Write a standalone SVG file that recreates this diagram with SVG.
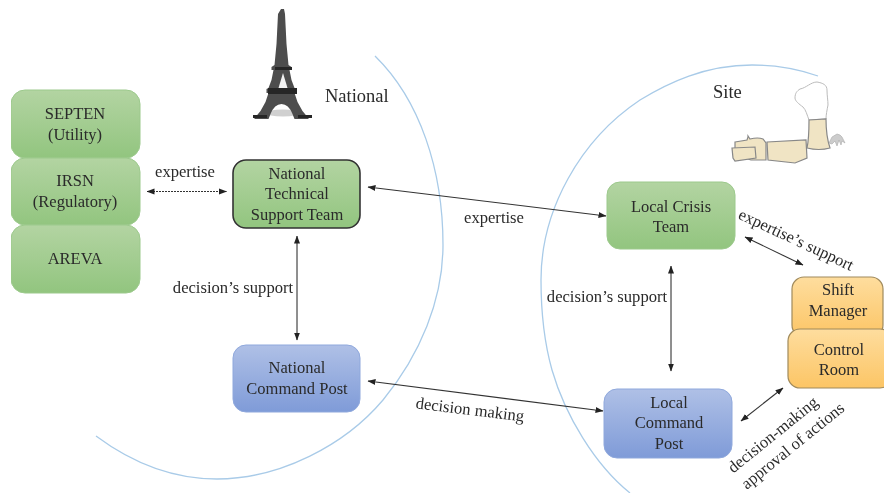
<svg xmlns="http://www.w3.org/2000/svg" width="884" height="493" viewBox="0 0 884 493">
<style>
text{font-family:"Liberation Serif","Times New Roman",serif;font-size:16.500px;fill:#2a2a2a;text-anchor:middle}
.l{font-size:16.600px}
.h{font-size:18.500px;text-anchor:start}
.c{fill:none;stroke:#333;stroke-width:1.1;marker-start:url(#a);marker-end:url(#a)}
.arc{fill:none;stroke:#a9cbe8;stroke-width:1.3}
.g{fill:url(#gg);stroke:#9cc98c;stroke-width:1}
.b{fill:url(#bg);stroke:#8fa8dc;stroke-width:1}
.o{fill:url(#og);stroke:#a08a5c;stroke-width:1.2}
.p{fill:#f0e4c4;stroke:#888;stroke-width:1.2}
</style>
<defs>
<marker id="a" viewBox="0 0 8 8" refX="7.500" refY="4" markerWidth="8" markerHeight="8" markerUnits="userSpaceOnUse" orient="auto-start-reverse"><path d="M0 1L8 4L0 7z" fill="#222"/></marker>
<linearGradient id="gg" x1="0" y1="0" x2="0" y2="1"><stop offset="0" stop-color="#b3d4a2"/><stop offset="1" stop-color="#92c57f"/></linearGradient>
<linearGradient id="bg" x1="0" y1="0" x2="0" y2="1"><stop offset="0" stop-color="#afc0e6"/><stop offset="1" stop-color="#7f9bd8"/></linearGradient>
<linearGradient id="og" x1="0" y1="0" x2="0" y2="1"><stop offset="0" stop-color="#fedd9e"/><stop offset="1" stop-color="#fcc565"/></linearGradient>
<filter id="soft" x="0" y="0" width="100%" height="100%"><feGaussianBlur stdDeviation="0.35"/></filter>
</defs>
<g filter="url(#soft)">
<path class="arc" d="M96 436C135 465 175 479 217 479C280 479 345 445 383 400C420 355 443 300 443 245C443 170 420 100 375 56"/>
<path class="arc" d="M818 76C798 69 775 65 752 65C705 65 668 83 640 100C580 140 541 210 541 280C541 315 545 345 552 370C565 415 595 465 630 493"/>
<g id="eiffel">
<ellipse cx="283" cy="113" rx="17" ry="3.500" fill="#d0d0d0"/>
<path fill="#4d4d4d" d="M281 9h3l1 5 1.500 30 2 21 3 2v3h-2l2 10 3 8 2 1v4h-2l3 9 5 9 5 6 1 1v1h-14l-2-5q-4-10-11-10t-11 10l-2 5h-14v-1l1-1 5-6 5-9 3-9h-2v-4l2-1 3-8 2-10h-2v-3l3-2 2-21 1.500-30z"/>
<path fill="#262626" d="M268 88h29v6h-29zM275 67h17v3h-17zM253 115h14v3h-14zM298 115h14v3h-14z"/>
<path fill="#f2f2f2" d="M283 73l4.500 15h-9z"/>
</g>
<g id="plant">
<path d="M809 120c-2-5-3-10-6-13c-4-3-8-6-8-9c0-5 2-7 5-9c6-1 11-7 17-7c6 1 10 3 10 8c0 6 1 10 1 15c-1 5-2 10-2 14z" fill="#fff" stroke="#bbb"/>
<path class="p" d="M809 120l17-1c0 10 1 20 4 29q-11 3-23 0c2-9 2-19 2-28z" stroke-width=".8"/>
<path d="M829 143l3-6 5-3 3 1 2 2 3 6-3-2-1 4-2-5-2 6-2-5-3 3z" fill="#ccc" stroke="#aaa" stroke-width=".6"/>
<path class="p" d="M735 142l12-2 1-3v-1l2 3q8-2 13 0l3 4v17h-15l-16-5z"/>
<path class="p" d="M732 148l23-1 1 11-21 3-2-3z"/>
<path class="p" d="M767 142l39-2 1 18-12 5-27-3z"/>
</g>
<g id="septen"><rect class="g" x="11" y="90" width="129" height="68" rx="14"/><text x="75" y="119">SEPTEN</text><text x="75" y="140">(Utility)</text></g>
<g id="irsn"><rect class="g" x="11" y="158" width="129" height="67" rx="14"/><text x="75" y="186">IRSN</text><text x="75" y="207">(Regulatory)</text></g>
<g id="areva"><rect class="g" x="11" y="225" width="129" height="68" rx="14"/><text x="75" y="264">AREVA</text></g>
<g id="ntst"><rect x="233" y="160" width="127" height="68" rx="13" fill="url(#gg)" stroke="#333" stroke-width="1.6"/><text x="297" y="179">National</text><text x="297" y="199">Technical</text><text x="297" y="220">Support Team</text></g>
<g id="ncp"><rect class="b" x="233" y="345" width="127" height="67" rx="13"/><text x="297" y="373">National</text><text x="297" y="394">Command Post</text></g>
<g id="lct"><rect class="g" x="607" y="182" width="128" height="67" rx="13"/><text x="671" y="212">Local Crisis</text><text x="671" y="232">Team</text></g>
<g id="lcp"><rect class="b" x="604" y="389" width="128" height="69" rx="13"/><text x="669" y="408">Local</text><text x="669" y="428">Command</text><text x="669" y="449">Post</text></g>
<g id="shift"><rect class="o" x="792" y="277" width="91" height="60" rx="12"/><text x="838" y="295">Shift</text><text x="838" y="316">Manager</text></g>
<g id="control"><rect class="o" x="788" y="329" width="104" height="59" rx="12"/><text x="839" y="355">Control</text><text x="839" y="375">Room</text></g>
<g id="connectors">
<path class="c" d="M147 191.500H226.500" stroke-dasharray="2 1"/>
<path class="c" d="M368 187L606 216"/>
<path class="c" d="M297 236V340"/>
<path class="c" d="M368 381L603 411"/>
<path class="c" d="M671 266V371"/>
<path class="c" d="M745 237L803 265"/>
<path class="c" d="M741 421L783 388"/>
</g>
<g id="labels">
<text class="h" x="325" y="102">National</text>
<text class="h" x="713" y="98">Site</text>
<text class="l" x="185" y="177">expertise</text>
<text class="l" x="494" y="223">expertise</text>
<text class="l" x="233" y="293">decision’s support</text>
<text class="l" x="607" y="302">decision’s support</text>
<text class="l" x="470" y="415" transform="rotate(7 470 410)">decision making</text>
<text class="l" x="796" y="245" transform="rotate(25 796 240)">expertise’s support</text>
<text class="l" x="773" y="440" transform="rotate(-39 773 435)">decision-making</text>
<text class="l" x="793" y="451" transform="rotate(-39 793 446)">approval of actions</text>
</g>
</g>
</svg>
